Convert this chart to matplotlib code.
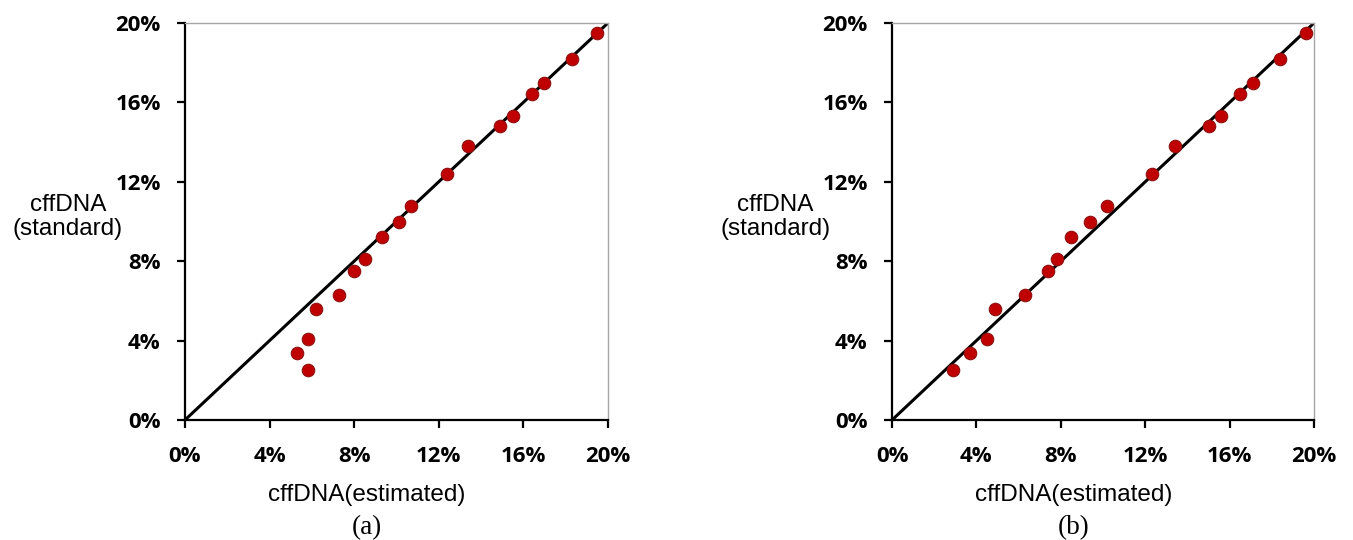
import numpy as np
import matplotlib.pyplot as plt
from matplotlib.ticker import FuncFormatter

# cffDNA values in percent
standard = [19.5, 18.2, 17.0, 16.4, 15.3, 14.8, 13.8, 12.4, 10.8, 10.0,
            9.2, 8.1, 7.5, 6.3, 5.6, 4.1, 3.4, 2.5]
estimated_a = [19.5, 18.3, 17.0, 16.4, 15.5, 14.9, 13.4, 12.4, 10.7, 10.1,
               9.3, 8.5, 8.0, 7.3, 6.2, 5.8, 5.3, 5.8]
estimated_b = [19.6, 18.4, 17.1, 16.5, 15.6, 15.0, 13.4, 12.3, 10.2, 9.4,
               8.5, 7.8, 7.4, 6.3, 4.9, 4.5, 3.7, 2.9]
ticks = [0, 4, 8, 12, 16, 20]
panels = ['(a)', '(b)']

fig = plt.figure(figsize=(13.53, 5.4), dpi=100)
axes = [fig.add_axes([0.1367, 0.2222, 0.3126, 0.7352]),
        fig.add_axes([0.6593, 0.2222, 0.3119, 0.7352])]

pct = FuncFormatter(lambda v, _: '{:.0f}%'.format(v))

for ax, est, lab in zip(axes, [estimated_a, estimated_b], panels):
    ax.plot([0, 20], [0, 20], color='black', lw=2.2, zorder=2)
    ax.plot(est, standard, 'o', ms=9, mfc='#C00000', mec='#8E1010',
            mew=0.8, zorder=3, clip_on=False)
    ax.set_xlim(0, 20)
    ax.set_ylim(0, 20)
    ax.set_xticks(ticks)
    ax.set_yticks(ticks)
    ax.xaxis.set_major_formatter(pct)
    ax.yaxis.set_major_formatter(pct)
    for s in ['left', 'bottom']:
        ax.spines[s].set_color('black')
        ax.spines[s].set_linewidth(1.6)
    for s in ['top', 'right']:
        ax.spines[s].set_color('#A6A6A6')
        ax.spines[s].set_linewidth(1.0)
    ax.tick_params(axis='both', direction='out', length=5.5, width=1.6,
                   color='black')
    ax.tick_params(axis='x', pad=13.5)
    ax.tick_params(axis='y', pad=12)
    for t in ax.get_xticklabels() + ax.get_yticklabels():
        t.set_fontfamily('Open Sans')
        t.set_fontweight('bold')
        t.set_fontsize(16)
    ax.set_xlabel('cffDNA(estimated)', family='Liberation Sans', fontsize=17.5,
                  va='center')
    ax.xaxis.set_label_coords(0.43, -0.189)
    ax.set_ylabel('cffDNA\n(standard)', family='Liberation Sans', fontsize=17.5,
                  rotation=0, ha='center', va='center', linespacing=1.1)
    ax.yaxis.set_label_coords(-0.277, 0.511)
    ax.text(0.43, -0.27, lab, transform=ax.transAxes, ha='center',
            va='center', family='Liberation Serif', fontsize=19.5)

fig.savefig('out.png', dpi=100)
